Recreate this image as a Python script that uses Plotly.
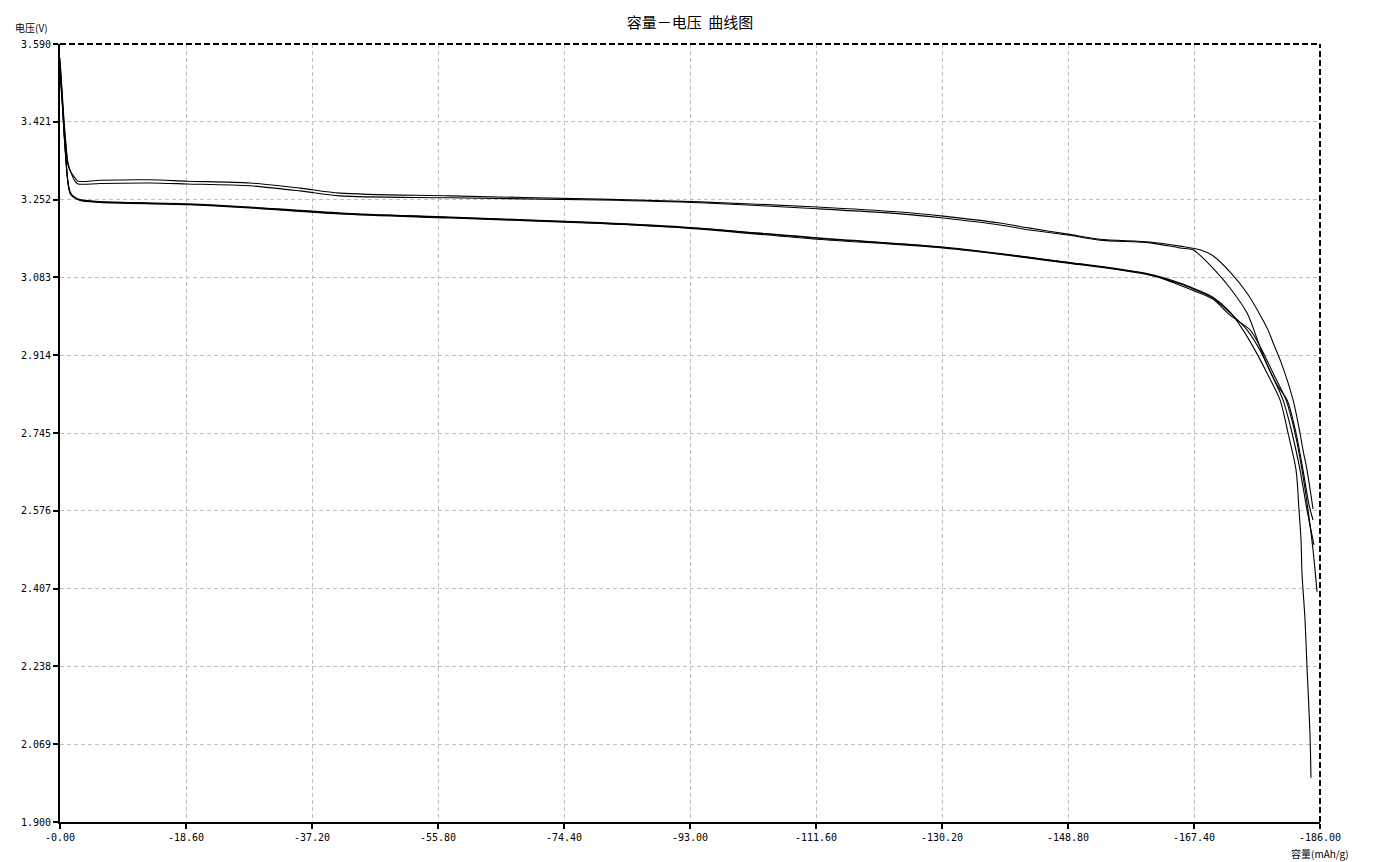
import plotly.graph_objects as go

# ---- data (capacity mAh/g, voltage V) ----
u1_x = [0.0, -0.30, -0.59, -0.89, -1.18, -1.62, -2.21, -2.66, -5.90, -13.29, -18.75, -28.05, -35.43, -41.33, -57.57, -79.71,
        -94.48, -111.75, -124.00, -130.35, -138.76, -143.19, -148.80, -153.52, -160.90, -165.33, -168.29, -170.20, -172.71,
        -175.22, -177.59, -178.32, -179.21, -180.24, -182.02, -183.05, -183.49, -184.08, -184.97]
u1_v = [3.551, 3.490, 3.425, 3.371, 3.332, 3.312, 3.299, 3.292, 3.294, 3.295, 3.292, 3.288, 3.277, 3.266, 3.260, 3.253,
        3.247, 3.236, 3.225, 3.216, 3.201, 3.190, 3.177, 3.166, 3.160, 3.151, 3.143, 3.130, 3.095,
        3.049, 2.990, 2.969, 2.936, 2.899, 2.817, 2.745, 2.708, 2.665, 2.580]

u2_x = [0.0, -0.30, -0.59, -0.89, -1.18, -1.62, -2.21, -2.66, -5.90, -13.29, -18.75, -28.05, -35.43, -41.33, -57.57, -79.71,
        -94.48, -111.75, -124.00, -130.35, -138.76, -143.19, -148.80, -153.52, -160.90, -165.33, -167.25, -168.73, -170.20,
        -172.71, -175.22, -177.14, -178.18, -179.66, -181.13, -182.46, -183.49, -184.38, -184.97]
u2_v = [3.538, 3.479, 3.416, 3.364, 3.327, 3.310, 3.292, 3.286, 3.287, 3.288, 3.286, 3.282, 3.271, 3.260, 3.256, 3.251,
        3.245, 3.232, 3.221, 3.212, 3.197, 3.186, 3.175, 3.164, 3.158, 3.147, 3.143, 3.125, 3.103,
        3.060, 3.006, 2.932, 2.893, 2.849, 2.817, 2.745, 2.665, 2.589, 2.556]

l1_x = [0.0, -0.30, -0.59, -0.89, -1.18, -1.48, -1.92, -2.95, -5.90, -18.75, -28.05, -41.33, -57.57, -79.71, -93.44, -111.75,
        -130.35, -148.80, -160.90, -165.33, -167.55, -170.20, -172.71, -174.63, -176.40, -178.32, -180.10, -181.28, -182.46,
        -182.90, -183.20, -183.34, -183.79, -184.08, -184.52, -184.67]
l1_v = [3.560, 3.479, 3.403, 3.338, 3.290, 3.269, 3.260, 3.252, 3.248, 3.243, 3.236, 3.223, 3.214, 3.202, 3.191, 3.169,
        3.149, 3.116, 3.090, 3.071, 3.058, 3.040, 3.008, 2.969, 2.925, 2.871, 2.817, 2.745, 2.665,
        2.578, 2.513, 2.441, 2.339, 2.237, 2.093, 1.996]

l2_x = [0.0, -0.30, -0.59, -0.89, -1.18, -1.48, -1.92, -2.95, -5.90, -18.75, -28.05, -41.33, -57.57, -79.71, -93.44, -111.75,
        -130.35, -148.80, -160.90, -165.33, -167.55, -170.20, -172.71, -175.22, -177.14, -178.91, -180.54, -181.87, -183.05,
        -184.08, -185.11]
l2_v = [3.523, 3.468, 3.397, 3.334, 3.288, 3.266, 3.258, 3.250, 3.246, 3.241, 3.234, 3.221, 3.212, 3.200, 3.189, 3.166,
        3.147, 3.114, 3.088, 3.069, 3.056, 3.038, 3.006, 2.969, 2.925, 2.871, 2.817, 2.745, 2.665,
        2.578, 2.502]

l3_x = [0.0, -0.30, -0.59, -0.89, -1.18, -1.48, -1.92, -2.95, -5.90, -18.75, -28.05, -41.33, -57.57, -79.71, -93.44, -111.75,
        -130.35, -148.80, -160.90, -165.33, -167.55, -170.20, -172.71, -175.67, -177.44, -179.21, -180.98, -182.31, -183.34,
        -184.23, -184.97, -185.56]
l3_v = [3.542, 3.473, 3.399, 3.336, 3.288, 3.267, 3.259, 3.251, 3.247, 3.242, 3.235, 3.222, 3.213, 3.201, 3.190, 3.168,
        3.148, 3.115, 3.089, 3.066, 3.053, 3.036, 3.001, 2.969, 2.925, 2.871, 2.817, 2.745, 2.665,
        2.578, 2.491, 2.400]

x_tickvals = [0, -18.6, -37.2, -55.8, -74.4, -93.0, -111.6, -130.2, -148.8, -167.4, -186.0]
x_ticktext = ["-0.00", "-18.60", "-37.20", "-55.80", "-74.40", "-93.00", "-111.60", "-130.20", "-148.80", "-167.40", "-186.00"]
y_tickvals = [1.900, 2.069, 2.238, 2.407, 2.576, 2.745, 2.914, 3.083, 3.252, 3.421, 3.590]
y_ticktext = ["1.900", "2.069", "2.238", "2.407", "2.576", "2.745", "2.914", "3.083", "3.252", "3.421", "3.590"]

title_text = "容量－电压  曲线图"
y_title = "电压(V)"
x_title = "容量(mAh/g)"

series = [(u1_x, u1_v), (u2_x, u2_v), (l1_x, l1_v), (l2_x, l2_v), (l3_x, l3_v)]

fig = go.Figure()
for xs, vs in series:
    fig.add_trace(go.Scatter(x=xs, y=vs, mode="lines",
                             line=dict(color="black", width=1.1, shape="spline", smoothing=0.8),
                             showlegend=False, hoverinfo="skip"))

mono = "DejaVu Sans Mono"
cjk = "Noto Sans CJK SC"

axis_common = dict(
    showline=True, linecolor="black", linewidth=2,
    ticks="outside", ticklen=5, tickwidth=2, tickcolor="black",
    showgrid=True, gridcolor="#c0c0c0", gridwidth=1, griddash="4px,3px",
    zeroline=False, tickfont=dict(family=mono, size=10, color="black"),
)

# page body adds an 8px offset; figure sized to fill the rest of the window
fig.update_layout(
    width=1368, height=854,
    paper_bgcolor="white", plot_bgcolor="white",
    margin=dict(l=52, r=56, t=36, b=40),
    title=dict(text=title_text, x=0.5, xref="paper", y=1 - 15 / 854, yref="container",
               xanchor="center", yanchor="middle",
               font=dict(family=cjk, size=15, color="black")),
    xaxis=dict(range=[0, -186], tickvals=x_tickvals, ticktext=x_ticktext, **axis_common),
    yaxis=dict(range=[1.900, 3.590], tickvals=y_tickvals, ticktext=y_ticktext, **axis_common),
    annotations=[
        dict(text=y_title, xref="paper", yref="paper", x=0, y=1, xanchor="right", yanchor="middle",
             xshift=-10, yshift=17, showarrow=False, font=dict(family=cjk, size=10, color="black")),
        dict(text=x_title, xref="paper", yref="paper", x=1, y=0, xanchor="center", yanchor="middle",
             yshift=-31, showarrow=False, font=dict(family=cjk, size=10, color="black")),
    ],
    shapes=[
        dict(type="line", xref="paper", yref="paper", x0=0, x1=1, y0=1, y1=1,
             line=dict(color="black", width=2, dash="6px,3px")),
        dict(type="line", xref="paper", yref="paper", x0=1, x1=1, y0=0, y1=1,
             line=dict(color="black", width=2, dash="6px,3px")),
    ],
)

fig.write_html("out.html")
